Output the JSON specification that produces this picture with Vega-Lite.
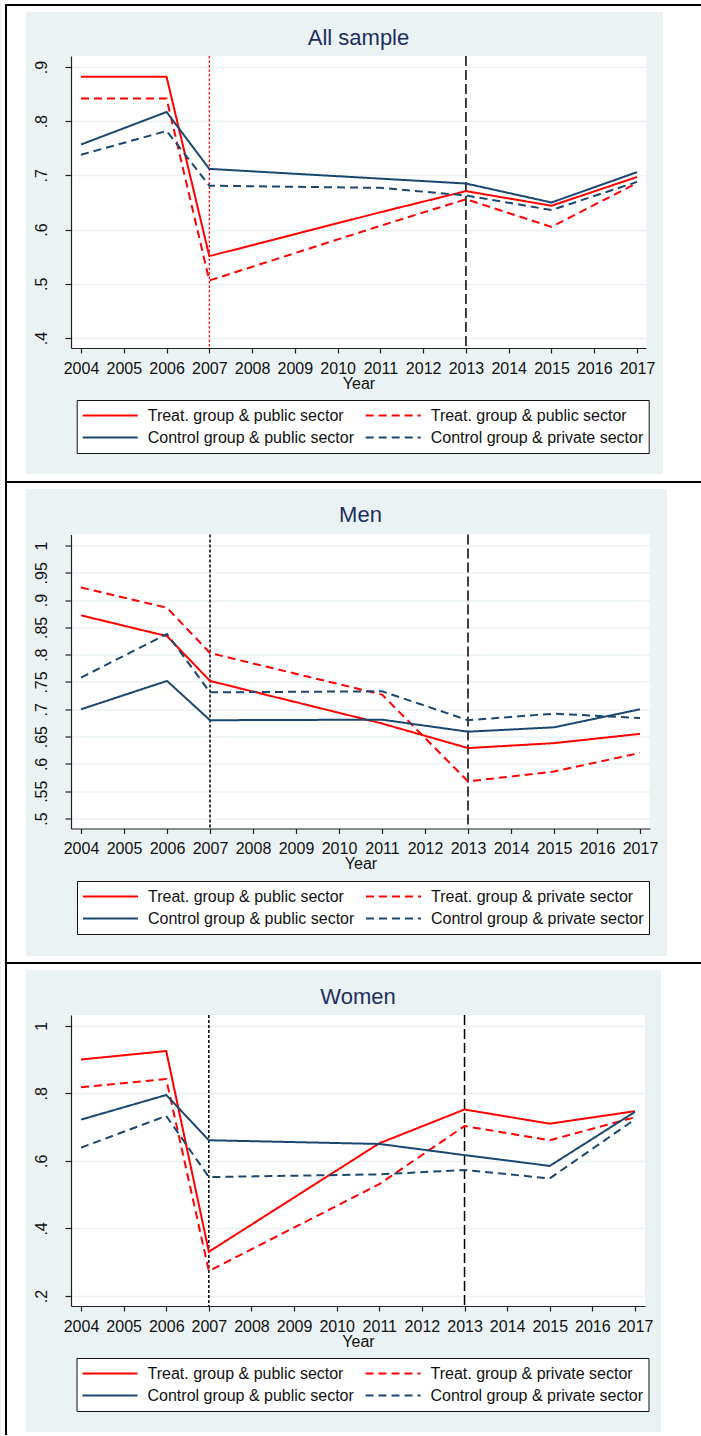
{
  "$schema": "https://vega.github.io/schema/vega-lite/v6.json",
  "usermeta": {"embedOptions": {"actions": false}},
  "background": "#eaf2f3",
  "padding": 0,
  "autosize": {"type": "pad"},
  "bounds": "flush",
  "spacing": 186.5,
  "config": {
    "font": "Liberation Sans",
    "view": {"fill": "white", "stroke": null},
    "title": {"fontSize": 22, "font": "Liberation Sans", "fontWeight": "normal", "color": "#1c2f60", "anchor": "middle", "frame": "group", "baseline": "alphabetic"},
    "axis": {"domainColor": "#222222", "domainWidth": 1.2, "tickColor": "#222222", "tickWidth": 1.2, "labelFontSize": 16, "labelColor": "#111111", "labelFont": "Liberation Sans", "titleFontSize": 16, "titleFont": "Liberation Sans", "titleFontWeight": "normal", "titleColor": "#111111", "gridColor": "#eaf2f3", "gridWidth": 1.5, "labelOverlap": false, "labelFlush": false},
    "axisX": {"grid": false, "tickSize": 5, "labelPadding": 7, "titlePadding": -1},
    "axisY": {"grid": true, "tickSize": 6, "labelPadding": 16, "labelAngle": -90, "labelAlign": "center", "labelBaseline": "bottom"},
    "legend": {"orient": "none", "direction": "horizontal", "columns": 2, "fillColor": "white", "strokeColor": "#111111", "padding": 5, "labelFontSize": 16, "labelFont": "Liberation Sans", "labelColor": "#111111", "symbolType": "stroke", "symbolSize": 3025, "symbolStrokeWidth": 2, "clipHeight": 21, "rowPadding": 1, "columnPadding": 10, "labelOffset": 9, "labelLimit": 400}
  },
  "resolve": {
    "scale": {"x": "independent", "y": "independent", "color": "independent", "strokeDash": "independent"},
    "axis": {"x": "independent", "y": "independent"},
    "legend": {"color": "independent", "strokeDash": "independent"}
  },
  "datasets": {
    "all": [
      {"series": "Treat. group & public sector", "year": 2004, "share": 0.882},
      {"series": "Treat. group & public sector", "year": 2006, "share": 0.882},
      {"series": "Treat. group & public sector", "year": 2007, "share": 0.551},
      {"series": "Treat. group & public sector", "year": 2011, "share": 0.632},
      {"series": "Treat. group & public sector", "year": 2013, "share": 0.671},
      {"series": "Treat. group & public sector", "year": 2015, "share": 0.644},
      {"series": "Treat. group & public sector", "year": 2017, "share": 0.697},
      {"series": "Treat. group & private sector", "year": 2004, "share": 0.842},
      {"series": "Treat. group & private sector", "year": 2006, "share": 0.842},
      {"series": "Treat. group & private sector", "year": 2007, "share": 0.506},
      {"series": "Treat. group & private sector", "year": 2011, "share": 0.607},
      {"series": "Treat. group & private sector", "year": 2013, "share": 0.656},
      {"series": "Treat. group & private sector", "year": 2015, "share": 0.605},
      {"series": "Treat. group & private sector", "year": 2017, "share": 0.686},
      {"series": "Control group & public sector", "year": 2004, "share": 0.757},
      {"series": "Control group & public sector", "year": 2006, "share": 0.817},
      {"series": "Control group & public sector", "year": 2007, "share": 0.712},
      {"series": "Control group & public sector", "year": 2011, "share": 0.694},
      {"series": "Control group & public sector", "year": 2013, "share": 0.685},
      {"series": "Control group & public sector", "year": 2015, "share": 0.650},
      {"series": "Control group & public sector", "year": 2017, "share": 0.706},
      {"series": "Control group & private sector", "year": 2004, "share": 0.738},
      {"series": "Control group & private sector", "year": 2006, "share": 0.782},
      {"series": "Control group & private sector", "year": 2007, "share": 0.681},
      {"series": "Control group & private sector", "year": 2011, "share": 0.677},
      {"series": "Control group & private sector", "year": 2013, "share": 0.663},
      {"series": "Control group & private sector", "year": 2015, "share": 0.636},
      {"series": "Control group & private sector", "year": 2017, "share": 0.688}
    ],
    "men": [
      {"series": "Treat. group & public sector", "year": 2004, "share": 0.872},
      {"series": "Treat. group & public sector", "year": 2006, "share": 0.834},
      {"series": "Treat. group & public sector", "year": 2007, "share": 0.752},
      {"series": "Treat. group & public sector", "year": 2011, "share": 0.674},
      {"series": "Treat. group & public sector", "year": 2013, "share": 0.629},
      {"series": "Treat. group & public sector", "year": 2015, "share": 0.638},
      {"series": "Treat. group & public sector", "year": 2017, "share": 0.655},
      {"series": "Treat. group & private sector", "year": 2004, "share": 0.923},
      {"series": "Treat. group & private sector", "year": 2006, "share": 0.886},
      {"series": "Treat. group & private sector", "year": 2007, "share": 0.803},
      {"series": "Treat. group & private sector", "year": 2011, "share": 0.727},
      {"series": "Treat. group & private sector", "year": 2013, "share": 0.568},
      {"series": "Treat. group & private sector", "year": 2015, "share": 0.586},
      {"series": "Treat. group & private sector", "year": 2017, "share": 0.620},
      {"series": "Control group & public sector", "year": 2004, "share": 0.700},
      {"series": "Control group & public sector", "year": 2006, "share": 0.752},
      {"series": "Control group & public sector", "year": 2007, "share": 0.680},
      {"series": "Control group & public sector", "year": 2011, "share": 0.681},
      {"series": "Control group & public sector", "year": 2013, "share": 0.659},
      {"series": "Control group & public sector", "year": 2015, "share": 0.667},
      {"series": "Control group & public sector", "year": 2017, "share": 0.700},
      {"series": "Control group & private sector", "year": 2004, "share": 0.758},
      {"series": "Control group & private sector", "year": 2006, "share": 0.838},
      {"series": "Control group & private sector", "year": 2007, "share": 0.731},
      {"series": "Control group & private sector", "year": 2011, "share": 0.733},
      {"series": "Control group & private sector", "year": 2013, "share": 0.680},
      {"series": "Control group & private sector", "year": 2015, "share": 0.692},
      {"series": "Control group & private sector", "year": 2017, "share": 0.684}
    ],
    "women": [
      {"series": "Treat. group & public sector", "year": 2004, "share": 0.900},
      {"series": "Treat. group & public sector", "year": 2006, "share": 0.925},
      {"series": "Treat. group & public sector", "year": 2007, "share": 0.331},
      {"series": "Treat. group & public sector", "year": 2011, "share": 0.652},
      {"series": "Treat. group & public sector", "year": 2013, "share": 0.752},
      {"series": "Treat. group & public sector", "year": 2015, "share": 0.710},
      {"series": "Treat. group & public sector", "year": 2017, "share": 0.747},
      {"series": "Treat. group & private sector", "year": 2004, "share": 0.818},
      {"series": "Treat. group & private sector", "year": 2006, "share": 0.842},
      {"series": "Treat. group & private sector", "year": 2007, "share": 0.274},
      {"series": "Treat. group & private sector", "year": 2011, "share": 0.531},
      {"series": "Treat. group & private sector", "year": 2013, "share": 0.703},
      {"series": "Treat. group & private sector", "year": 2015, "share": 0.661},
      {"series": "Treat. group & private sector", "year": 2017, "share": 0.729},
      {"series": "Control group & public sector", "year": 2004, "share": 0.722},
      {"series": "Control group & public sector", "year": 2006, "share": 0.795},
      {"series": "Control group & public sector", "year": 2007, "share": 0.661},
      {"series": "Control group & public sector", "year": 2011, "share": 0.650},
      {"series": "Control group & public sector", "year": 2013, "share": 0.617},
      {"series": "Control group & public sector", "year": 2015, "share": 0.585},
      {"series": "Control group & public sector", "year": 2017, "share": 0.745},
      {"series": "Control group & private sector", "year": 2004, "share": 0.639},
      {"series": "Control group & private sector", "year": 2006, "share": 0.733},
      {"series": "Control group & private sector", "year": 2007, "share": 0.552},
      {"series": "Control group & private sector", "year": 2011, "share": 0.560},
      {"series": "Control group & private sector", "year": 2013, "share": 0.573},
      {"series": "Control group & private sector", "year": 2015, "share": 0.548},
      {"series": "Control group & private sector", "year": 2017, "share": 0.723}
    ]
  },
  "vconcat": [
    {
      "width": 575,
      "height": 292,
      "title": {"text": "All sample", "offset": -50},
      "layer": [
        {"data": {"values": [{}]}, "mark": {"type": "rule", "color": "#ff0000", "strokeWidth": 1.2, "strokeDash": [2.5, 2]}, "encoding": {"x": {"datum": 2007, "type": "quantitative"}}},
        {"data": {"values": [{}]}, "mark": {"type": "rule", "color": "black", "strokeWidth": 1.5, "strokeDash": [10, 4]}, "encoding": {"x": {"datum": 2013, "type": "quantitative"}}},
        {
          "data": {"name": "all"},
          "mark": {"type": "line", "strokeWidth": 2},
          "encoding": {
            "x": {"field": "year", "type": "quantitative", "scale": {"domain": [2003.766, 2017.21], "nice": false, "zero": false}, "axis": {"values": [2004, 2005, 2006, 2007, 2008, 2009, 2010, 2011, 2012, 2013, 2014, 2015, 2016, 2017], "tickCount": 30, "format": "d", "title": "Year", "labelOverlap": false}},
            "y": {"field": "share", "type": "quantitative", "scale": {"domain": [0.3815, 0.9203], "nice": false, "zero": false}, "axis": {"values": [0.4, 0.5, 0.6, 0.7, 0.8, 0.9], "tickCount": 30, "labelExpr": "datum.value >= 1 ? '1' : slice(format(datum.value, '.2~f'), 1)", "title": null, "labelOverlap": false}},
            "color": {"field": "series", "type": "nominal", "scale": {"domain": ["Treat. group & public sector", "Treat. group & private sector", "Control group & public sector", "Control group & private sector"], "range": ["#ff0000", "#ff0000", "#1a476f", "#1a476f"]}, "legend": {"title": null, "legendX": 5.7, "legendY": 344, "labelExpr": "datum.label == 'Treat. group & private sector' ? 'Treat. group & public sector' : datum.label"}},
            "strokeDash": {"field": "series", "type": "nominal", "scale": {"domain": ["Treat. group & public sector", "Treat. group & private sector", "Control group & public sector", "Control group & private sector"], "range": [[1, 0], [8, 5], [1, 0], [8, 5]]}}
          }
        },
        {"data": {"values": [{}]}, "mark": {"type": "rect", "color": "white"}, "encoding": {"x": {"datum": 2002.129, "type": "quantitative"}, "x2": {"datum": 2018.519}, "y": {"datum": 1.02363, "type": "quantitative"}, "y2": {"datum": 1.00149}}},
        {"data": {"values": [{}]}, "mark": {"type": "rect", "color": "white"}, "encoding": {"x": {"datum": 2002.129, "type": "quantitative"}, "x2": {"datum": 2018.519}, "y": {"datum": 0.14901, "type": "quantitative"}, "y2": {"datum": 0.12133}}},
        {"data": {"values": [{}]}, "mark": {"type": "rect", "color": "white"}, "encoding": {"x": {"datum": 2002.129, "type": "quantitative"}, "x2": {"datum": 2002.714}, "y": {"datum": 1.02363, "type": "quantitative"}, "y2": {"datum": 0.12133}}},
        {"data": {"values": [{}]}, "mark": {"type": "rect", "color": "white"}, "encoding": {"x": {"datum": 2017.608, "type": "quantitative"}, "x2": {"datum": 2018.519}, "y": {"datum": 1.02363, "type": "quantitative"}, "y2": {"datum": 0.12133}}},
        {"data": {"values": [{}]}, "mark": {"type": "rule", "color": "black", "strokeWidth": 2}, "encoding": {"x": {"datum": 2002.223, "type": "quantitative"}, "x2": {"datum": 2018.496}, "y": {"datum": 1.01441, "type": "quantitative"}}},
        {"data": {"values": [{}]}, "mark": {"type": "rule", "color": "black", "strokeWidth": 2}, "encoding": {"x": {"datum": 2002.246, "type": "quantitative"}, "y": {"datum": 1.01625, "type": "quantitative"}, "y2": {"datum": 0.13425}}}
      ]
    },
    {
      "width": 579,
      "height": 294,
      "title": {"text": "Men", "offset": -46},
      "layer": [
        {"data": {"values": [{}]}, "mark": {"type": "rule", "color": "black", "strokeWidth": 1.5, "strokeDash": [3, 2]}, "encoding": {"x": {"datum": 2007, "type": "quantitative"}}},
        {"data": {"values": [{}]}, "mark": {"type": "rule", "color": "black", "strokeWidth": 1.5, "strokeDash": [10, 4]}, "encoding": {"x": {"datum": 2013, "type": "quantitative"}}},
        {
          "data": {"name": "men"},
          "mark": {"type": "line", "strokeWidth": 2},
          "encoding": {
            "x": {"field": "year", "type": "quantitative", "scale": {"domain": [2003.767, 2017.233], "nice": false, "zero": false}, "axis": {"values": [2004, 2005, 2006, 2007, 2008, 2009, 2010, 2011, 2012, 2013, 2014, 2015, 2016, 2017], "tickCount": 30, "format": "d", "title": "Year", "labelOverlap": false}},
            "y": {"field": "share", "type": "quantitative", "scale": {"domain": [0.4817, 1.0201], "nice": false, "zero": false}, "axis": {"values": [0.5, 0.55, 0.6, 0.65, 0.7, 0.75, 0.8, 0.85, 0.9, 0.95, 1], "tickCount": 30, "labelExpr": "datum.value >= 1 ? '1' : slice(format(datum.value, '.2~f'), 1)", "title": null, "labelOverlap": false}},
            "color": {"field": "series", "type": "nominal", "scale": {"domain": ["Treat. group & public sector", "Treat. group & private sector", "Control group & public sector", "Control group & private sector"], "range": ["#ff0000", "#ff0000", "#1a476f", "#1a476f"]}, "legend": {"title": null, "legendX": 6, "legendY": 346.5}},
            "strokeDash": {"field": "series", "type": "nominal", "scale": {"domain": ["Treat. group & public sector", "Treat. group & private sector", "Control group & public sector", "Control group & private sector"], "range": [[1, 0], [8, 5], [1, 0], [8, 5]]}}
          }
        },
        {"data": {"values": [{}]}, "mark": {"type": "rect", "color": "white"}, "encoding": {"x": {"datum": 2002.139, "type": "quantitative"}, "x2": {"datum": 2018.442}, "y": {"datum": 0.24821, "type": "quantitative"}, "y2": {"datum": 0.22257}}},
        {"data": {"values": [{}]}, "mark": {"type": "rect", "color": "white"}, "encoding": {"x": {"datum": 2002.139, "type": "quantitative"}, "x2": {"datum": 2002.720}, "y": {"datum": 1.10342, "type": "quantitative"}, "y2": {"datum": 0.22257}}},
        {"data": {"values": [{}]}, "mark": {"type": "rect", "color": "white"}, "encoding": {"x": {"datum": 2017.628, "type": "quantitative"}, "x2": {"datum": 2018.442}, "y": {"datum": 1.10342, "type": "quantitative"}, "y2": {"datum": 0.22257}}},
        {"data": {"values": [{}]}, "mark": {"type": "rule", "color": "black", "strokeWidth": 2}, "encoding": {"x": {"datum": 2002.232, "type": "quantitative"}, "x2": {"datum": 2018.419}, "y": {"datum": 1.11624, "type": "quantitative"}}},
        {"data": {"values": [{}]}, "mark": {"type": "rule", "color": "black", "strokeWidth": 2}, "encoding": {"x": {"datum": 2002.255, "type": "quantitative"}, "y": {"datum": 1.11624, "type": "quantitative"}, "y2": {"datum": 0.23539}}}
      ]
    },
    {
      "width": 574,
      "height": 291,
      "title": {"text": "Women", "offset": -47},
      "layer": [
        {"data": {"values": [{}]}, "mark": {"type": "rule", "color": "black", "strokeWidth": 1.5, "strokeDash": [3, 2]}, "encoding": {"x": {"datum": 2007, "type": "quantitative"}}},
        {"data": {"values": [{}]}, "mark": {"type": "rule", "color": "black", "strokeWidth": 1.5, "strokeDash": [10, 4]}, "encoding": {"x": {"datum": 2013, "type": "quantitative"}}},
        {
          "data": {"name": "women"},
          "mark": {"type": "line", "strokeWidth": 2},
          "encoding": {
            "x": {"field": "year", "type": "quantitative", "scale": {"domain": [2003.765, 2017.235], "nice": false, "zero": false}, "axis": {"values": [2004, 2005, 2006, 2007, 2008, 2009, 2010, 2011, 2012, 2013, 2014, 2015, 2016, 2017], "tickCount": 30, "format": "d", "title": "Year", "labelOverlap": false}},
            "y": {"field": "share", "type": "quantitative", "scale": {"domain": [0.1704, 1.0317], "nice": false, "zero": false}, "axis": {"values": [0.2, 0.4, 0.6, 0.8, 1], "tickCount": 30, "labelExpr": "datum.value >= 1 ? '1' : slice(format(datum.value, '.2~f'), 1)", "title": null, "labelOverlap": false}},
            "color": {"field": "series", "type": "nominal", "scale": {"domain": ["Treat. group & public sector", "Treat. group & private sector", "Control group & public sector", "Control group & private sector"], "range": ["#ff0000", "#ff0000", "#1a476f", "#1a476f"]}, "legend": {"title": null, "legendX": 5.5, "legendY": 343}},
            "strokeDash": {"field": "series", "type": "nominal", "scale": {"domain": ["Treat. group & public sector", "Treat. group & private sector", "Control group & public sector", "Control group & private sector"], "range": [[1, 0], [8, 5], [1, 0], [8, 5]]}}
          }
        },
        {"data": {"values": [{}]}, "mark": {"type": "rect", "color": "white"}, "encoding": {"x": {"datum": 2002.122, "type": "quantitative"}, "x2": {"datum": 2018.573}, "y": {"datum": -0.20254, "type": "quantitative"}, "y2": {"datum": -0.21438}}},
        {"data": {"values": [{}]}, "mark": {"type": "rect", "color": "white"}, "encoding": {"x": {"datum": 2002.122, "type": "quantitative"}, "x2": {"datum": 2002.709}, "y": {"datum": 1.16489, "type": "quantitative"}, "y2": {"datum": -0.21438}}},
        {"data": {"values": [{}]}, "mark": {"type": "rect", "color": "white"}, "encoding": {"x": {"datum": 2017.611, "type": "quantitative"}, "x2": {"datum": 2018.573}, "y": {"datum": 1.16489, "type": "quantitative"}, "y2": {"datum": -0.21438}}},
        {"data": {"values": [{}]}, "mark": {"type": "rule", "color": "black", "strokeWidth": 2}, "encoding": {"x": {"datum": 2002.216, "type": "quantitative"}, "x2": {"datum": 2018.549}, "y": {"datum": 1.18561, "type": "quantitative"}}},
        {"data": {"values": [{}]}, "mark": {"type": "rule", "color": "black", "strokeWidth": 2}, "encoding": {"x": {"datum": 2002.240, "type": "quantitative"}, "y": {"datum": 1.18561, "type": "quantitative"}, "y2": {"datum": -0.21142}}}
      ]
    }
  ]
}
